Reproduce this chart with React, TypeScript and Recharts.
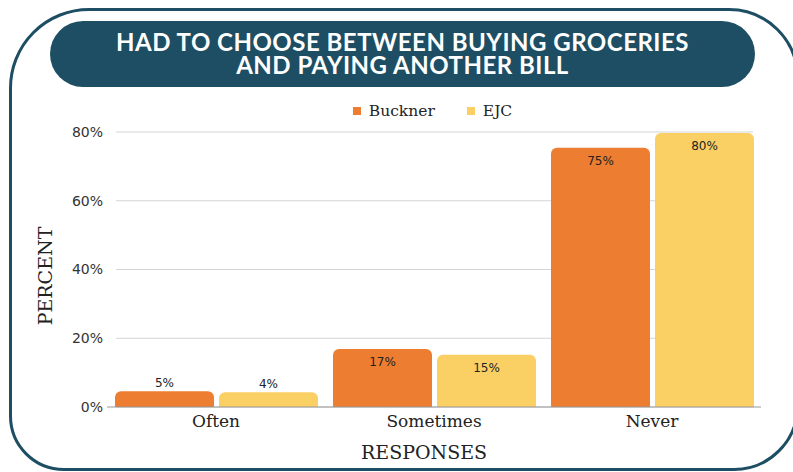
import { Bar, BarChart, CartesianGrid, LabelList, XAxis, YAxis } from "recharts";

const categories = ["Often", "Sometimes", "Never"];
const buckner = [4.6, 16.9, 75.4];
const ejc = [4.3, 15.2, 79.7];
const yTicks = [0, 20, 40, 60, 80];
const title = "HAD TO CHOOSE BETWEEN BUYING GROCERIES AND PAYING ANOTHER BILL";

const data = categories.map((name, i) => ({ name, buckner: buckner[i], ejc: ejc[i] }));

const ORANGE = "#ED7D31";
const YELLOW = "#FAD064";
const TEAL = "#1D4E64";
const SERIF = "'DejaVu Serif', serif";
const SANS = "'DejaVu Sans', sans-serif";

const BarValue = (props: any) => {
  const { x, y, width, value } = props;
  const inside = value >= 10;
  return (
    <text
      x={x + width / 2}
      y={inside ? y + 17 : y - 4}
      textAnchor="middle"
      fontFamily={SANS}
      fontSize={12}
      fill="#222"
    >
      {`${Math.round(value)}%`}
    </text>
  );
};

export default function App() {
  return (
    <div style={{ position: "fixed", left: 0, top: 0, width: 793, height: 472, background: "#fff", overflow: "hidden" }}>
      <div
        style={{
          position: "absolute",
          left: 9,
          top: 8,
          width: 790,
          height: 463,
          boxSizing: "border-box",
          border: `3.5px solid ${TEAL}`,
          borderRadius: "80px 70px 65px 55px",
        }}
      />
      <div
        style={{
          position: "absolute",
          left: 50,
          top: 21,
          width: 705,
          height: 66,
          borderRadius: 33,
          background: TEAL,
          display: "flex",
          alignItems: "center",
          justifyContent: "center",
          paddingBottom: 2,
          boxSizing: "border-box",
        }}
      >
        <div
          style={{
            width: 600,
            color: "#fff",
            fontFamily: "Lato, sans-serif",
            fontWeight: 700,
            fontSize: 24,
            letterSpacing: 0.5,
            lineHeight: "23px",
            textAlign: "center",
          }}
        >
          {title}
        </div>
      </div>
      <div
        style={{
          position: "absolute",
          left: 0,
          top: 101,
          width: 865,
          display: "flex",
          justifyContent: "center",
          gap: 32,
          fontFamily: SERIF,
          fontSize: 15.5,
          color: "#222",
          lineHeight: "20px",
        }}
      >
        <span style={{ display: "flex", alignItems: "center" }}>
          <span style={{ width: 8, height: 8, background: ORANGE, marginRight: 8 }} />
          Buckner
        </span>
        <span style={{ display: "flex", alignItems: "center" }}>
          <span style={{ width: 8, height: 8, background: YELLOW, marginRight: 8 }} />
          EJC
        </span>
      </div>
      <div
        style={{
          position: "absolute",
          left: 45,
          top: 276,
          transform: "translate(-50%, -50%) rotate(-90deg)",
          fontFamily: SERIF,
          fontSize: 19,
          color: "#222",
          whiteSpace: "nowrap",
        }}
      >
        PERCENT
      </div>
      <div
        style={{
          position: "absolute",
          left: 0,
          top: 441,
          width: 848,
          textAlign: "center",
          fontFamily: SERIF,
          fontSize: 19,
          color: "#222",
          lineHeight: "22px",
        }}
      >
        RESPONSES
      </div>
      <div style={{ position: "absolute", left: 0, top: 0 }}>
        <BarChart
          width={793}
          height={472}
          data={data}
          margin={{ top: 132, right: 32, bottom: 35, left: 47 }}
          barCategoryGap={8}
          barGap={5}
        >
          <CartesianGrid vertical={false} stroke="#d4d4d4" x={116} width={637} />
          <XAxis
            dataKey="name"
            height={30}
            tickLine={false}
            axisLine={{ stroke: "#999" }}
            tickMargin={2}
            tick={{ fontFamily: SERIF, fontSize: 17, fill: "#222" }}
          />
          <YAxis
            width={60}
            domain={[0, 80]}
            ticks={yTicks}
            tickFormatter={(v) => `${v}%`}
            axisLine={false}
            tickLine={false}
            tickMargin={-2}
            tick={{ fontFamily: SANS, fontSize: 14, fill: "#333" }}
          />
          <Bar dataKey="buckner" fill={ORANGE} radius={[6, 6, 0, 0]} isAnimationActive={false}>
            <LabelList dataKey="buckner" content={BarValue} />
          </Bar>
          <Bar dataKey="ejc" fill={YELLOW} radius={[6, 6, 0, 0]} isAnimationActive={false}>
            <LabelList dataKey="ejc" content={BarValue} />
          </Bar>
        </BarChart>
      </div>
    </div>
  );
}
